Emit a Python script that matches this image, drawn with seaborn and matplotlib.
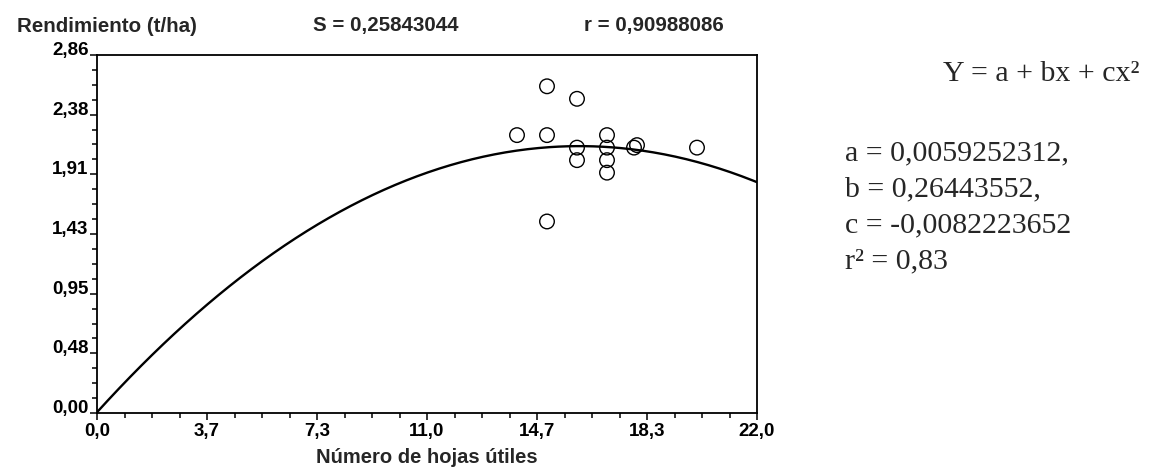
import numpy as np
import pandas as pd
import matplotlib
matplotlib.use("Agg")
import matplotlib.pyplot as plt
import seaborn as sns
from matplotlib import font_manager as fm
from matplotlib.ticker import AutoMinorLocator, FixedLocator, FixedFormatter

# ---------------- data ----------------
hojas = [14.0, 15.0, 15.0, 15.0, 16.0, 16.0, 16.0, 17.0, 17.0, 17.0, 17.0, 17.9, 18.0, 20.0]
rendimiento = [2.22, 2.61, 2.22, 1.53, 2.51, 2.12, 2.02, 2.22, 2.12, 2.02, 1.92, 2.12, 2.14, 2.12]

coef_a = 0.0059252312
coef_b = 0.26443552
coef_c = -0.0082223652

x_tick_values = [0.0, 22 / 6, 2 * 22 / 6, 11.0, 4 * 22 / 6, 5 * 22 / 6, 22.0]
x_tick_labels = ["0,0", "3,7", "7,3", "11,0", "14,7", "18,3", "22,0"]
y_tick_values = [0.0, 2.86 / 6, 2 * 2.86 / 6, 3 * 2.86 / 6, 4 * 2.86 / 6, 5 * 2.86 / 6, 2.86]
y_tick_labels = ["0,00", "0,48", "0,95", "1,43", "1,91", "2,38", "2,86"]

y_label = "Rendimiento (t/ha)"
x_label = "Número de hojas útiles"
stat_s = "S = 0,25843044"
stat_r = "r = 0,90988086"
eq_title = "Y = a + bx + cx²"
eq_lines = ["a = 0,0059252312,", "b = 0,26443552,", "c = -0,0082223652", "r² = 0,83"]

# ---------------- style ----------------
sns.set_style("ticks")
names = {f.name for f in fm.fontManager.ttflist}
narrow = None
for cand in ["Liberation Sans Narrow", "Arial Narrow", "DejaVu Sans Condensed"]:
    if cand in names:
        narrow = cand
        break
if narrow is None:
    narrow = "Liberation Sans" if "Liberation Sans" in names else "DejaVu Sans"
serif = "Liberation Serif" if "Liberation Serif" in names else "DejaVu Serif"
plt.rcParams["font.family"] = [narrow, "DejaVu Sans"]

W, H = 1153, 475
fig = plt.figure(figsize=(W / 100, H / 100), dpi=100)
fig.patch.set_facecolor("white")
ax_left, ax_right, ax_top, ax_bottom = 97, 757, 55, 413
ax = fig.add_axes([ax_left / W, 1 - ax_bottom / H, (ax_right - ax_left) / W,
                   (ax_bottom - ax_top) / H])

# fitted curve from the printed coefficients
x_curve = np.linspace(0, 22, 300)
y_curve = coef_a + coef_b * x_curve + coef_c * x_curve ** 2
curve_df = pd.DataFrame({"x": x_curve, "y": y_curve})
sns.lineplot(data=curve_df, x="x", y="y", ax=ax, color="black", linewidth=1.7)

pts = pd.DataFrame({"hojas": hojas, "rend": rendimiento})
sns.scatterplot(data=pts, x="hojas", y="rend", ax=ax, s=110, marker="o",
                facecolor="none", edgecolor="black", linewidth=1.0, zorder=3)

ax.set_xlim(0, 22)
ax.set_ylim(0, 2.86)
ax.xaxis.set_major_locator(FixedLocator(x_tick_values))
ax.xaxis.set_major_formatter(FixedFormatter(x_tick_labels))
ax.yaxis.set_major_locator(FixedLocator(y_tick_values))
ax.yaxis.set_major_formatter(FixedFormatter(y_tick_labels))
ax.xaxis.set_minor_locator(AutoMinorLocator(4))
ax.yaxis.set_minor_locator(AutoMinorLocator(4))
ax.tick_params(axis="both", which="major", direction="out", length=5, width=1.1,
               color="black", labelsize=13.5, labelcolor="black")
ax.tick_params(axis="both", which="minor", direction="out", length=3.5, width=1.1, color="black")
ax.tick_params(axis="y", pad=1)
ax.tick_params(axis="x", pad=2)
for lab in ax.get_xticklabels() + ax.get_yticklabels():
    lab.set_fontweight("bold")
for lab in ax.get_yticklabels():
    lab.set_verticalalignment("baseline")

for sp in ax.spines.values():
    sp.set_visible(True)
    sp.set_color("black")
    sp.set_linewidth(1.3)

ax.set_ylabel("")
ax.set_xlabel(x_label, fontsize=14.5, fontweight="bold", labelpad=6)

# header texts
fig.text(17 / W, 1 - 26 / H, y_label, fontsize=14.8, fontweight="bold", ha="left", va="center")
fig.text(386 / W, 1 - 26 / H, stat_s, fontsize=14.8, fontweight="bold", ha="center", va="center")
fig.text(654 / W, 1 - 26 / H, stat_r, fontsize=14.8, fontweight="bold", ha="center", va="center")

# equation block
fig.text(943 / W, 1 - 74 / H, eq_title, fontsize=21.5, family=serif, ha="left", va="center")
for i, line in enumerate(eq_lines):
    fig.text(845 / W, 1 - (153 + 36 * i) / H, line, fontsize=21.5, family=serif,
             ha="left", va="center")

fig.savefig("out.png", dpi=100, facecolor="white")
